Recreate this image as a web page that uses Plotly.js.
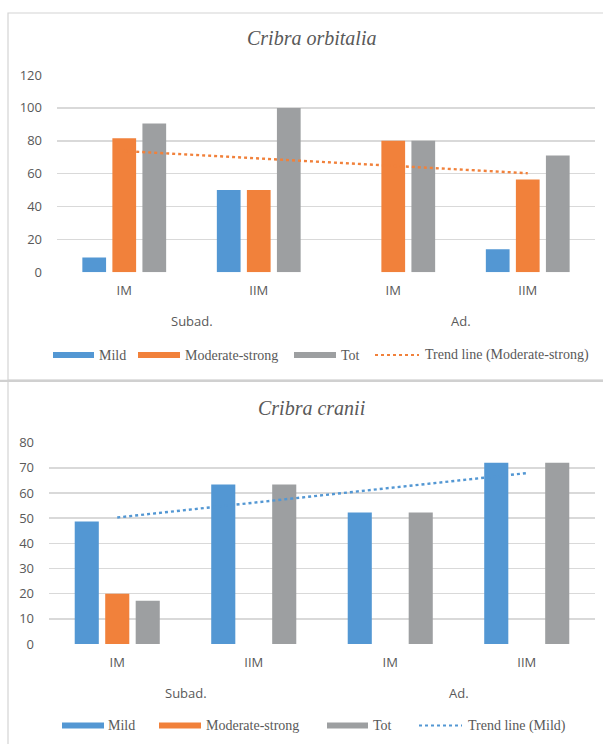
<!DOCTYPE html>
<html>
<head>
<meta charset="utf-8">
<script src="https://cdn.plot.ly/plotly-3.0.1.min.js"></script>
<style>
  html, body { margin: 0; padding: 0; background: #ffffff; }
  #chart { width: 603px; height: 744px; }
</style>
</head>
<body>
<div id="chart"></div>
<script>
// Two-level categories: age group / stage
const groups = ["Subad.", "Subad.", "Ad.", "Ad."];
const stages = ["IM", "IIM", "IM", "IIM"];
const seriesNames = ["Mild", "Moderate-strong", "Tot"];

// Cribra orbitalia (%)
const orbMild = [9, 50, 0, 14];
const orbModerate = [81.5, 50, 80, 56.5];
const orbTot = [90.5, 100, 80, 71];

// Cribra cranii (%)
const cranMild = [48.7, 63.4, 52.3, 72];
const cranModerate = [20, 0, 0, 0];
const cranTot = [17.2, 63.4, 52.3, 72];

const titles = ["Cribra orbitalia", "Cribra cranii"];
const trendNames = ["Trend line (Moderate-strong)", "Trend line (Mild)"];

const colors = ["#5397d3", "#f1813b", "#9d9fa1"];
const textGrey = "#595959";
const gridGrey = "#d9d9d9";
const W = 603, H = 744;

// category slots along the x axis
const slots = stages.map((_, i) => i);

// least-squares line over category positions 1..n, returned at both ends
function trendEnds(vals) {
  const n = vals.length;
  let sx = 0, sy = 0, sxx = 0, sxy = 0;
  vals.forEach((v, i) => { const x = i + 1; sx += x; sy += v; sxx += x * x; sxy += x * v; });
  const b = (n * sxy - sx * sy) / (n * sxx - sx * sx);
  const a = (sy - b * sx) / n;
  return [a + b * 1, a + b * n];
}
const xEnds = [slots[0], slots[slots.length - 1]];

function bars(vals, i, xa, ya) {
  return {
    type: "bar", x: slots, y: vals, name: seriesNames[i],
    xaxis: xa, yaxis: ya, showlegend: false, hoverinfo: "skip",
    marker: { color: colors[i], line: { width: 0 } }
  };
}

const data = [
  bars(orbMild, 0, "x", "y"),
  bars(orbModerate, 1, "x", "y"),
  bars(orbTot, 2, "x", "y"),
  { type: "scatter", mode: "lines", x: xEnds, y: trendEnds(orbModerate), xaxis: "x", yaxis: "y",
    showlegend: false, hoverinfo: "skip",
    line: { color: colors[1], width: 2.4, dash: "dot" } },
  bars(cranMild, 0, "x2", "y2"),
  bars(cranModerate, 1, "x2", "y2"),
  bars(cranTot, 2, "x2", "y2"),
  { type: "scatter", mode: "lines", x: xEnds, y: trendEnds(cranMild), xaxis: "x2", yaxis: "y2",
    showlegend: false, hoverinfo: "skip",
    line: { color: colors[0], width: 2.4, dash: "dot" } }
];

const px = v => v / W;
const py = v => 1 - v / H;

const tickFont = { family: "Open Sans, Liberation Sans, sans-serif", size: 13, color: textGrey };
const serifFont = { family: "Liberation Serif, DejaVu Serif, serif", size: 14, color: textGrey };

function xAxis(domain, anchor) {
  return {
    domain: domain, anchor: anchor, range: [-0.5, slots.length - 0.5],
    tickmode: "array", tickvals: slots, ticktext: stages,
    showgrid: false, showline: false, zeroline: false,
    ticks: "", tickfont: tickFont, ticklabelstandoff: 9, fixedrange: true
  };
}
function yAxis(domain, anchor, top, step) {
  return {
    domain: domain, anchor: anchor, range: [0, top], dtick: step, tick0: 0,
    showgrid: true, gridcolor: gridGrey, gridwidth: 1.6,
    zeroline: false, showline: false, ticks: "",
    tickfont: tickFont, ticklabelstandoff: 14, fixedrange: true
  };
}

const shapes = [
  // chart frames
  { type: "rect", xref: "paper", yref: "paper", x0: px(8), x1: px(640), y0: py(380), y1: py(13),
    line: { color: "#d4d4d4", width: 1.2 }, fillcolor: "rgba(0,0,0,0)" },
  { type: "line", xref: "paper", yref: "paper", x0: 0, x1: 1, y0: py(380.8), y1: py(380.8),
    line: { color: "#d0d0d0", width: 2.2 } },
  { type: "line", xref: "paper", yref: "paper", x0: px(8), x1: px(8), y0: py(382), y1: py(760),
    line: { color: "#d4d4d4", width: 1.2 } }
];
const annotations = [];

titles.forEach((t, k) => {
  annotations.push({
    xref: "paper", yref: "paper", x: px(311), y: py(k === 0 ? 38 : 408),
    text: "<i>" + t + "</i>", showarrow: false, xanchor: "center", yanchor: "middle",
    font: { family: "Liberation Serif, DejaVu Serif, serif", size: 20, color: textGrey }
  });
});

// group labels centred under their categories
const groupNames = groups.filter((g, i) => groups.indexOf(g) === i);
[["x", 321], ["x2", 693]].forEach(([xa, yPos]) => {
  groupNames.forEach(g => {
    const idx = slots.filter(i => groups[i] === g);
    const mid = idx.reduce((s, v) => s + v, 0) / idx.length;
    annotations.push({ xref: xa, yref: "paper", x: mid, y: py(yPos), text: g,
      showarrow: false, xanchor: "center", yanchor: "middle", font: tickFont });
  });
});

// legend rows: swatch spans and text starts
const legendRows = [
  { y: 355, sw: [[53, 94], [138, 180], [294, 336], [375, 419]], tx: [97, 183, 339, 423],
    trendColor: colors[1], trendName: trendNames[0] },
  { y: 725.5, sw: [[62, 104], [159, 201], [327, 368], [419, 462]], tx: [106, 204, 371, 466],
    trendColor: colors[0], trendName: trendNames[1] }
];
legendRows.forEach(row => {
  const names = seriesNames.concat([row.trendName]);
  names.forEach((nm, i) => {
    const [a, b] = row.sw[i];
    if (i < 3) {
      shapes.push({ type: "rect", xref: "paper", yref: "paper",
        x0: px(a), x1: px(b), y0: py(row.y + 3), y1: py(row.y - 3),
        fillcolor: colors[i], line: { width: 0 } });
    } else {
      shapes.push({ type: "line", xref: "paper", yref: "paper",
        x0: px(a), x1: px(b), y0: py(row.y), y1: py(row.y),
        line: { color: row.trendColor, width: 2, dash: "dot" } });
    }
    annotations.push({ xref: "paper", yref: "paper", x: px(row.tx[i]), y: py(row.y),
      text: nm, showarrow: false, xanchor: "left", yanchor: "middle", font: serifFont });
  });
});

const layout = {
  width: W, height: H,
  margin: { l: 0, r: 0, t: 0, b: 0 },
  paper_bgcolor: "#ffffff", plot_bgcolor: "rgba(0,0,0,0)",
  barmode: "group", bargap: 0.33, bargroupgap: 0.21,
  showlegend: false,
  xaxis: xAxis([px(57), px(595)], "y"),
  yaxis: yAxis([1 - 272.3 / H, 1 - 75 / H], "x", 120, 20),
  xaxis2: xAxis([px(49), px(595)], "y2"),
  yaxis2: yAxis([1 - 644 / H, 1 - 442.7 / H], "x2", 80, 10),
  shapes: shapes,
  annotations: annotations
};

Plotly.newPlot("chart", data, layout, { staticPlot: true, displayModeBar: false });
</script>
</body>
</html>
